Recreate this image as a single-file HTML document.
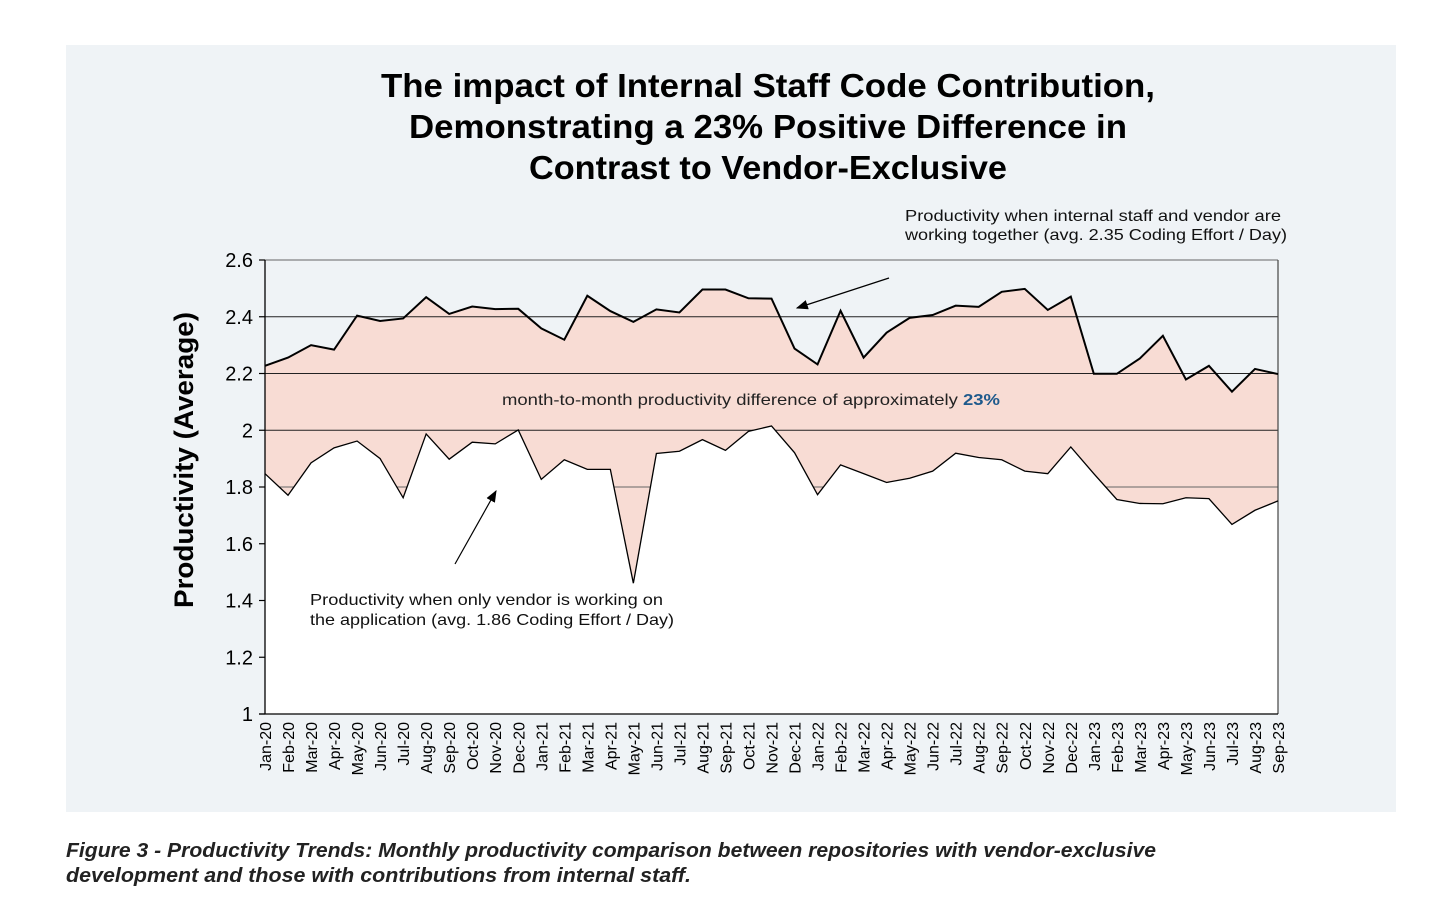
<!DOCTYPE html>
<html><head><meta charset="utf-8"><style>
html,body{margin:0;padding:0;background:#fff;width:1450px;height:920px;overflow:hidden;font-family:"Liberation Sans",sans-serif;}
</style></head><body>
<svg width="1450" height="920" viewBox="0 0 1450 920" xmlns="http://www.w3.org/2000/svg">
<rect x="66" y="45" width="1330" height="767" fill="#eff3f6"/>
<g font-family="Liberation Sans, sans-serif" font-weight="bold" font-size="33" fill="#000">
<text x="381" y="97" textLength="774" lengthAdjust="spacingAndGlyphs">The impact of Internal Staff Code Contribution,</text>
<text x="409" y="138" textLength="718" lengthAdjust="spacingAndGlyphs">Demonstrating a 23% Positive Difference in</text>
<text x="529" y="179" textLength="478" lengthAdjust="spacingAndGlyphs">Contrast to Vendor-Exclusive</text>
</g>
<g id="plot"></g>
<text x="905" y="221" font-size="16" fill="#111" textLength="376" lengthAdjust="spacingAndGlyphs">Productivity when internal staff and vendor are</text>
<text x="905" y="240" font-size="16" fill="#111" textLength="382" lengthAdjust="spacingAndGlyphs">working together (avg. 2.35 Coding Effort / Day)</text>
<text x="502" y="405" font-size="16" fill="#222" textLength="498" lengthAdjust="spacingAndGlyphs">month-to-month productivity difference of approximately <tspan font-weight="bold" fill="#1f5a8c">23%</tspan></text>
<text x="310" y="605" font-size="16" fill="#111" textLength="353" lengthAdjust="spacingAndGlyphs">Productivity when only vendor is working on</text>
<text x="310" y="625" font-size="16" fill="#111" textLength="364" lengthAdjust="spacingAndGlyphs">the application (avg. 1.86 Coding Effort / Day)</text>
<defs><marker id="ah" markerWidth="10" markerHeight="8" refX="9" refY="4" orient="auto"><path d="M0,0 L10,4 L0,8 Z" fill="#000"/></marker></defs>
<line x1="889" y1="278" x2="797" y2="308" stroke="#000" stroke-width="1.2" marker-end="url(#ah)"/>
<line x1="455" y1="564" x2="496" y2="491" stroke="#000" stroke-width="1.2" marker-end="url(#ah)"/>
<text transform="translate(193,460) rotate(-90)" text-anchor="middle" font-size="27" font-weight="bold" fill="#000" textLength="296" lengthAdjust="spacingAndGlyphs">Productivity (Average)</text>
<g font-family="Liberation Sans, sans-serif" font-size="20" font-style="italic" font-weight="bold" fill="#222">
<text x="66" y="857" textLength="1090" lengthAdjust="spacingAndGlyphs">Figure 3 - Productivity Trends: Monthly productivity comparison between repositories with vendor-exclusive</text>
<text x="66" y="882" textLength="625" lengthAdjust="spacingAndGlyphs">development and those with contributions from internal staff.</text>
</g>
</svg>
<script>
const categories=["Jan-20","Feb-20","Mar-20","Apr-20","May-20","Jun-20","Jul-20","Aug-20","Sep-20","Oct-20","Nov-20","Dec-20","Jan-21","Feb-21","Mar-21","Apr-21","May-21","Jun-21","Jul-21","Aug-21","Sep-21","Oct-21","Nov-21","Dec-21","Jan-22","Feb-22","Mar-22","Apr-22","May-22","Jun-22","Jul-22","Aug-22","Sep-22","Oct-22","Nov-22","Dec-22","Jan-23","Feb-23","Mar-23","Apr-23","May-23","Jun-23","Jul-23","Aug-23","Sep-23"];
const internalValues=[2.227,2.256,2.30,2.284,2.404,2.385,2.394,2.469,2.41,2.436,2.427,2.428,2.359,2.319,2.474,2.42,2.382,2.426,2.415,2.496,2.496,2.465,2.464,2.288,2.232,2.421,2.256,2.344,2.396,2.406,2.439,2.435,2.488,2.498,2.424,2.471,2.199,2.199,2.253,2.333,2.179,2.227,2.136,2.216,2.198];
const vendorValues=[1.847,1.771,1.885,1.938,1.962,1.90,1.762,1.987,1.898,1.958,1.952,2.001,1.827,1.896,1.862,1.862,1.461,1.918,1.926,1.967,1.929,1.996,2.015,1.921,1.773,1.878,1.847,1.816,1.831,1.856,1.919,1.904,1.896,1.856,1.847,1.941,1.847,1.756,1.742,1.741,1.762,1.759,1.668,1.718,1.751];
const yTicks=[1,1.2,1.4,1.6,1.8,2,2.2,2.4,2.6];
const yTickLabels=["1","1.2","1.4","1.6","1.8","2","2.2","2.4","2.6"];

const NS="http://www.w3.org/2000/svg";
const X0=265,X1=1278,Y0=714,Y1=260,vMin=1,vMax=2.6;
const xs=i=>X0+(X1-X0)*i/(categories.length-1);
const ys=v=>Y0-(v-vMin)/(vMax-vMin)*(Y0-Y1);
const plot=document.getElementById('plot');
function mk(tag,attrs){const e=document.createElementNS(NS,tag);for(const k in attrs)e.setAttribute(k,attrs[k]);plot.appendChild(e);return e;}

const up=internalValues.map((v,i)=>xs(i)+','+ys(v));
const lo=vendorValues.map((v,i)=>xs(i)+','+ys(v));
const band=mk('polygon',{points:up.concat(lo.slice().reverse()).join(' '),fill:'#f8dcd4'});


yTicks.forEach((t,i)=>{
  if(t>=1.8){const g=mk('line',{x1:X0,x2:X1,y1:ys(t),y2:ys(t),stroke:(i===yTicks.length-1||t===1.8)?'#666':'#222','stroke-width':1.1});
  
  }
});
const white=mk('polygon',{points:lo.join(' ')+' '+X1+','+Y0+' '+X0+','+Y0,fill:'#fff'});


const rb=mk('line',{x1:X1,x2:X1,y1:Y1,y2:Y0,stroke:'#444','stroke-width':1.2});


const l1=mk('polyline',{points:up.join(' '),fill:'none',stroke:'#000','stroke-width':2});


const l2=mk('polyline',{points:lo.join(' '),fill:'none',stroke:'#000','stroke-width':1.3});


const ya=mk('line',{x1:X0,x2:X0,y1:Y1,y2:Y0,stroke:'#000','stroke-width':1.3});


const xa=mk('line',{x1:X0-6,x2:X1,y1:Y0,y2:Y0,stroke:'#000','stroke-width':1.3});


yTicks.forEach((t,i)=>{
  const tk=mk('line',{x1:X0-6,x2:X0,y1:ys(t),y2:ys(t),stroke:'#000','stroke-width':1.2});
  
  
  const tx=mk('text',{x:253,y:ys(t)+7,'text-anchor':'end','font-size':20,fill:'#000'});
  tx.textContent=yTickLabels[i];
  
  
});
categories.forEach((c,i)=>{
  const tx=mk('text',{transform:'translate('+(xs(i)+6)+',722) rotate(-90)','text-anchor':'end','font-size':16,fill:'#000'});
  tx.textContent=c;
  
  
});
</script>
</body></html>
